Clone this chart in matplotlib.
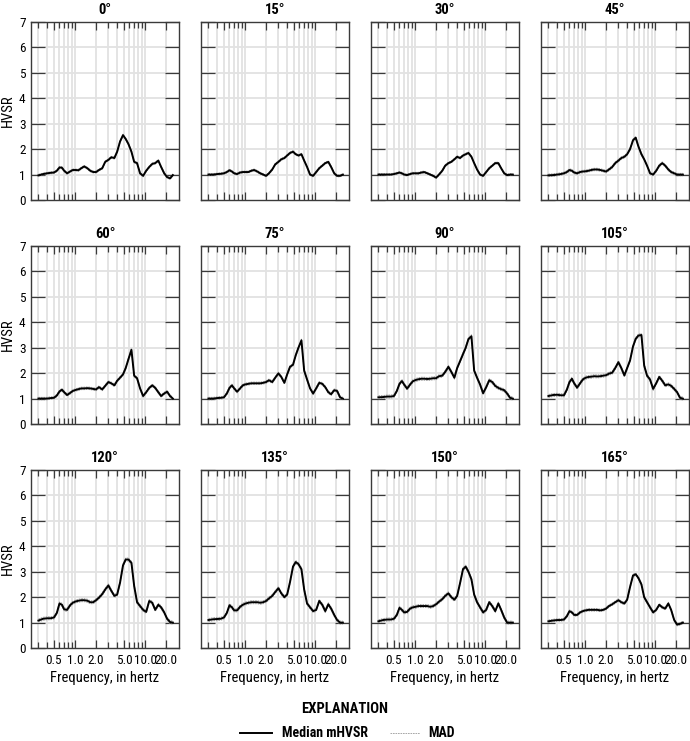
import matplotlib
matplotlib.use("Agg")
import matplotlib.pyplot as plt
from matplotlib.lines import Line2D
from matplotlib.ticker import FixedLocator, NullFormatter, FixedFormatter
from matplotlib import font_manager
import numpy as np

# pick a narrow / condensed family that has regular and bold faces
fams = {}
for f in font_manager.fontManager.ttflist:
    if 'Narrow' in f.name or 'Condensed' in f.name:
        w = f.weight if isinstance(f.weight, int) else font_manager.weight_dict.get(f.weight, 400)
        fams.setdefault(f.name, set()).add((w, f.style))
pref = ['Liberation Sans Narrow', 'Roboto Condensed', 'Open Sans Condensed',
        'Noto Sans Condensed', 'DejaVu Sans Condensed']
narrow = None
def good(n):
    ws = {w for w, s in fams[n] if s == 'normal'}
    return any(w >= 600 for w in ws) and any(350 <= w <= 500 for w in ws)
for n in pref + sorted(fams):
    if n in fams and good(n):
        narrow = n
        break
if narrow is None and fams:
    narrow = sorted(fams)[0]

if narrow is None:
    plt.rcParams['font.family'] = ['Liberation Sans', 'DejaVu Sans']
    fs_tick, fs_lab = 8.0, 9.5
else:
    plt.rcParams['font.family'] = [narrow, 'Liberation Sans', 'DejaVu Sans']
    fs_tick, fs_lab = 9.5, 10.5

freq = [0.30, 0.35, 0.40, 0.45, 0.50, 0.55, 0.60, 0.65, 0.70, 0.77, 0.85, 0.93,
        1.02, 1.12, 1.23, 1.35, 1.50, 1.65, 1.82, 2.00, 2.20, 2.45, 2.70, 3.00,
        3.30, 3.65, 4.00, 4.40, 4.85, 5.30, 5.80, 6.40, 7.00, 7.70, 8.50, 9.40,
        10.4, 11.5, 12.7, 14.0, 15.5, 17.0, 18.8, 20.7, 22.8, 25.0]

angles = ["0°", "15°", "30°", "45°", "60°", "75°", "90°", "105°",
          "120°", "135°", "150°", "165°"]

hvsr_0 = [0.97, 1.02, 1.05, 1.07, 1.08, 1.15, 1.28, 1.27, 1.15, 1.05, 1.12, 1.18,
          1.18, 1.17, 1.25, 1.32, 1.25, 1.15, 1.10, 1.10, 1.18, 1.25, 1.50, 1.58,
          1.68, 1.65, 1.90, 2.30, 2.55, 2.40, 2.20, 1.90, 1.50, 1.45, 1.05, 0.95,
          1.15, 1.30, 1.42, 1.45, 1.55, 1.30, 1.05, 0.90, 0.85, 0.98]
hvsr_15 = [1.0, 1.0, 1.02, 1.03, 1.05, 1.1, 1.17, 1.12, 1.05, 1.02, 1.08, 1.1,
           1.1, 1.1, 1.15, 1.18, 1.12, 1.05, 1.0, 0.95, 1.05, 1.2, 1.4, 1.5,
           1.6, 1.65, 1.75, 1.85, 1.9, 1.8, 1.75, 1.8, 1.55, 1.3, 1.0, 0.95,
           1.1, 1.25, 1.35, 1.45, 1.5, 1.3, 1.05, 0.95, 0.95, 1.0]
hvsr_30 = [1.0, 1.0, 1.0, 1.0, 1.02, 1.05, 1.08, 1.05, 1.0, 0.98, 1.02, 1.05,
           1.05, 1.05, 1.08, 1.1, 1.05, 1.0, 0.95, 0.88, 1.0, 1.15, 1.35, 1.45,
           1.5, 1.6, 1.7, 1.65, 1.75, 1.8, 1.85, 1.7, 1.45, 1.2, 1.0, 0.95,
           1.1, 1.25, 1.35, 1.45, 1.45, 1.25, 1.05, 0.98, 1.0, 1.0]
hvsr_45 = [0.97, 0.98, 1.0, 1.02, 1.05, 1.1, 1.18, 1.15, 1.08, 1.05, 1.1, 1.12,
           1.13, 1.15, 1.18, 1.2, 1.2, 1.18, 1.15, 1.12, 1.2, 1.3, 1.45, 1.55,
           1.65, 1.7, 1.8, 2.0, 2.35, 2.45, 2.1, 1.8, 1.6, 1.35, 1.05, 1.0,
           1.15, 1.35, 1.45, 1.35, 1.2, 1.1, 1.05, 1.0, 1.0, 1.0]
hvsr_60 = [1.0, 1.0, 1.0, 1.02, 1.03, 1.12, 1.28, 1.35, 1.25, 1.14, 1.22, 1.3,
           1.34, 1.37, 1.4, 1.4, 1.41, 1.4, 1.38, 1.36, 1.45, 1.36, 1.5, 1.65,
           1.6, 1.52, 1.7, 1.82, 1.95, 2.2, 2.55, 2.92, 1.9, 1.8, 1.4, 1.1,
           1.25, 1.42, 1.52, 1.42, 1.25, 1.1, 1.2, 1.27, 1.1, 1.0]
hvsr_75 = [1.0, 1.0, 1.02, 1.03, 1.05, 1.2, 1.42, 1.52, 1.4, 1.27, 1.4, 1.52,
           1.56, 1.58, 1.6, 1.6, 1.6, 1.6, 1.62, 1.65, 1.72, 1.65, 1.82, 1.99,
           1.85, 1.62, 1.95, 2.25, 2.33, 2.7, 3.0, 3.29, 2.1, 1.75, 1.4, 1.2,
           1.4, 1.62, 1.58, 1.45, 1.25, 1.17, 1.33, 1.3, 1.05, 1.0]
hvsr_90 = [1.05, 1.06, 1.08, 1.08, 1.1, 1.3, 1.58, 1.69, 1.55, 1.39, 1.55, 1.68,
           1.73, 1.76, 1.78, 1.78, 1.77, 1.78, 1.8, 1.8, 1.88, 1.9, 2.05, 2.25,
           2.05, 1.82, 2.2, 2.47, 2.75, 3.0, 3.34, 3.45, 2.1, 1.82, 1.55, 1.21,
           1.45, 1.72, 1.65, 1.5, 1.42, 1.37, 1.33, 1.2, 1.03, 1.0]
hvsr_105 = [1.1, 1.14, 1.15, 1.13, 1.13, 1.35, 1.65, 1.78, 1.6, 1.43, 1.6, 1.75,
            1.82, 1.85, 1.86, 1.88, 1.87, 1.88, 1.9, 1.92, 1.98, 2.02, 2.2, 2.43,
            2.2, 1.91, 2.2, 2.5, 3.05, 3.35, 3.48, 3.5, 2.3, 1.9, 1.75, 1.38,
            1.6, 1.85, 1.7, 1.52, 1.56, 1.5, 1.38, 1.25, 1.03, 1.0]
hvsr_120 = [1.08, 1.15, 1.17, 1.17, 1.2, 1.38, 1.75, 1.7, 1.52, 1.5, 1.68, 1.78,
            1.83, 1.86, 1.88, 1.88, 1.86, 1.8, 1.8, 1.88, 1.98, 2.12, 2.3, 2.46,
            2.25, 2.05, 2.1, 2.57, 3.25, 3.48, 3.48, 3.35, 2.44, 1.8, 1.65, 1.5,
            1.42, 1.85, 1.78, 1.5, 1.7, 1.6, 1.4, 1.15, 1.02, 1.0]
hvsr_135 = [1.1, 1.13, 1.14, 1.15, 1.2, 1.38, 1.68, 1.6, 1.48, 1.48, 1.62, 1.7,
            1.75, 1.78, 1.8, 1.8, 1.8, 1.78, 1.8, 1.85, 1.95, 2.05, 2.2, 2.35,
            2.15, 2.0, 2.1, 2.6, 3.2, 3.38, 3.3, 3.1, 2.3, 1.75, 1.6, 1.45,
            1.5, 1.85, 1.7, 1.45, 1.72, 1.55, 1.3, 1.1, 1.0, 1.0]
hvsr_150 = [1.05, 1.1, 1.12, 1.12, 1.15, 1.3, 1.58, 1.5, 1.4, 1.42, 1.55, 1.6,
            1.62, 1.65, 1.65, 1.65, 1.65, 1.62, 1.65, 1.72, 1.82, 1.92, 2.05, 2.15,
            2.0, 1.9, 2.05, 2.55, 3.1, 3.2, 3.0, 2.7, 2.1, 1.8, 1.6, 1.4,
            1.5, 1.8, 1.65, 1.45, 1.75, 1.5, 1.2, 1.0, 1.0, 1.0]
hvsr_165 = [1.05, 1.08, 1.1, 1.1, 1.12, 1.25, 1.45, 1.4, 1.3, 1.3, 1.4, 1.45,
            1.48, 1.5, 1.5, 1.5, 1.5, 1.48, 1.5, 1.55, 1.65, 1.72, 1.8, 1.88,
            1.8, 1.75, 1.9, 2.4, 2.85, 2.9, 2.75, 2.5, 2.0, 1.8, 1.6, 1.4,
            1.5, 1.7, 1.6, 1.55, 1.75, 1.5, 1.1, 0.92, 0.95, 1.0]

mad = [0.04, 0.04, 0.04, 0.05, 0.05, 0.05, 0.06, 0.06, 0.06, 0.06, 0.06, 0.05]

series = [hvsr_0, hvsr_15, hvsr_30, hvsr_45, hvsr_60, hvsr_75, hvsr_90, hvsr_105,
          hvsr_120, hvsr_135, hvsr_150, hvsr_165]

major_ticks = [0.5, 1.0, 2.0, 5.0, 10.0, 20.0]
major_labels = ["0.5", "1.0", "2.0", "5.0", "10.0", "20.0"]
minor_ticks = [0.3, 0.4, 0.6, 0.7, 0.8, 0.9, 3, 4, 6, 7, 8, 9]
grid_x = [0.3, 0.4, 0.5, 0.6, 0.7, 0.8, 0.9, 1.0, 2, 3, 4, 5, 6, 7, 8, 9, 10, 20]

W, H = 690, 741
fig = plt.figure(figsize=(W / 100, H / 100), dpi=100)

col_x = [31, 201, 371, 541]
row_top = [22, 246, 470]
aw, ah = 148, 178

spine_c = '#3a3a3a'
grid_c = '#e2e2e2'

for i, (ang, vals) in enumerate(zip(angles, series)):
    r, c = divmod(i, 4)
    ax = fig.add_axes([col_x[c] / W, 1 - (row_top[r] + ah) / H, aw / W, ah / H])
    ax.set_xscale('log')
    ax.set_xlim(0.235, 30.6)
    ax.set_ylim(0, 7)
    for g in grid_x:
        ax.axvline(g, color=grid_c, lw=1.3, zorder=0)
    for g in range(1, 7):
        ax.axhline(g, color=grid_c, lw=1.3, zorder=0)
    v = np.array(vals)
    ax.plot(freq, v + mad[i], color='#9a9a9a', lw=0.6, ls=(0, (2, 1)), zorder=2)
    ax.plot(freq, v - mad[i], color='#9a9a9a', lw=0.6, ls=(0, (2, 1)), zorder=2)
    ax.plot(freq, v, color='black', lw=1.4, zorder=3)

    ax.xaxis.set_major_locator(FixedLocator(major_ticks))
    ax.xaxis.set_minor_locator(FixedLocator(minor_ticks))
    ax.xaxis.set_minor_formatter(NullFormatter())
    ax.set_yticks(range(0, 8))
    ax.tick_params(axis='x', which='major', direction='in', length=6, width=0.9,
                   color=spine_c, top=True, bottom=True, labelsize=fs_tick, pad=4)
    ax.tick_params(axis='x', which='minor', direction='in', length=4, width=0.9,
                   color=spine_c, top=True, bottom=True)
    ax.tick_params(axis='y', direction='in', length=10, width=0.9, color=spine_c,
                   left=True, right=True, labelsize=fs_tick, pad=4)
    for s in ax.spines.values():
        s.set_color(spine_c)
        s.set_linewidth(1.0)
    if r == 2:
        ax.xaxis.set_major_formatter(FixedFormatter(major_labels))
        ax.set_xlabel("Frequency, in hertz", fontsize=fs_lab, labelpad=3)
    else:
        ax.xaxis.set_major_formatter(NullFormatter())
    if c == 0:
        ax.set_ylabel("HVSR", fontsize=fs_lab, labelpad=3)
    else:
        ax.set_yticklabels([])
    ax.set_title(ang, fontsize=fs_lab, fontweight='bold', pad=6)

fig.text(345 / W, 1 - 709 / H, "EXPLANATION", ha='center', va='center',
         fontsize=fs_lab, fontweight='bold')
ly = 1 - 733 / H
fig.add_artist(Line2D([240 / W, 272 / W], [ly, ly], color='black', lw=1.4))
fig.text(282 / W, ly, "Median mHVSR", ha='left', va='center', fontsize=fs_lab - 0.5, fontweight='bold')
fig.add_artist(Line2D([390 / W, 420 / W], [ly, ly], color='#9a9a9a', lw=0.6, ls=(0, (2, 1))))
fig.text(428 / W, ly, "MAD", ha='left', va='center', fontsize=fs_lab - 0.5, fontweight='bold')

fig.savefig("out.png", dpi=100)
